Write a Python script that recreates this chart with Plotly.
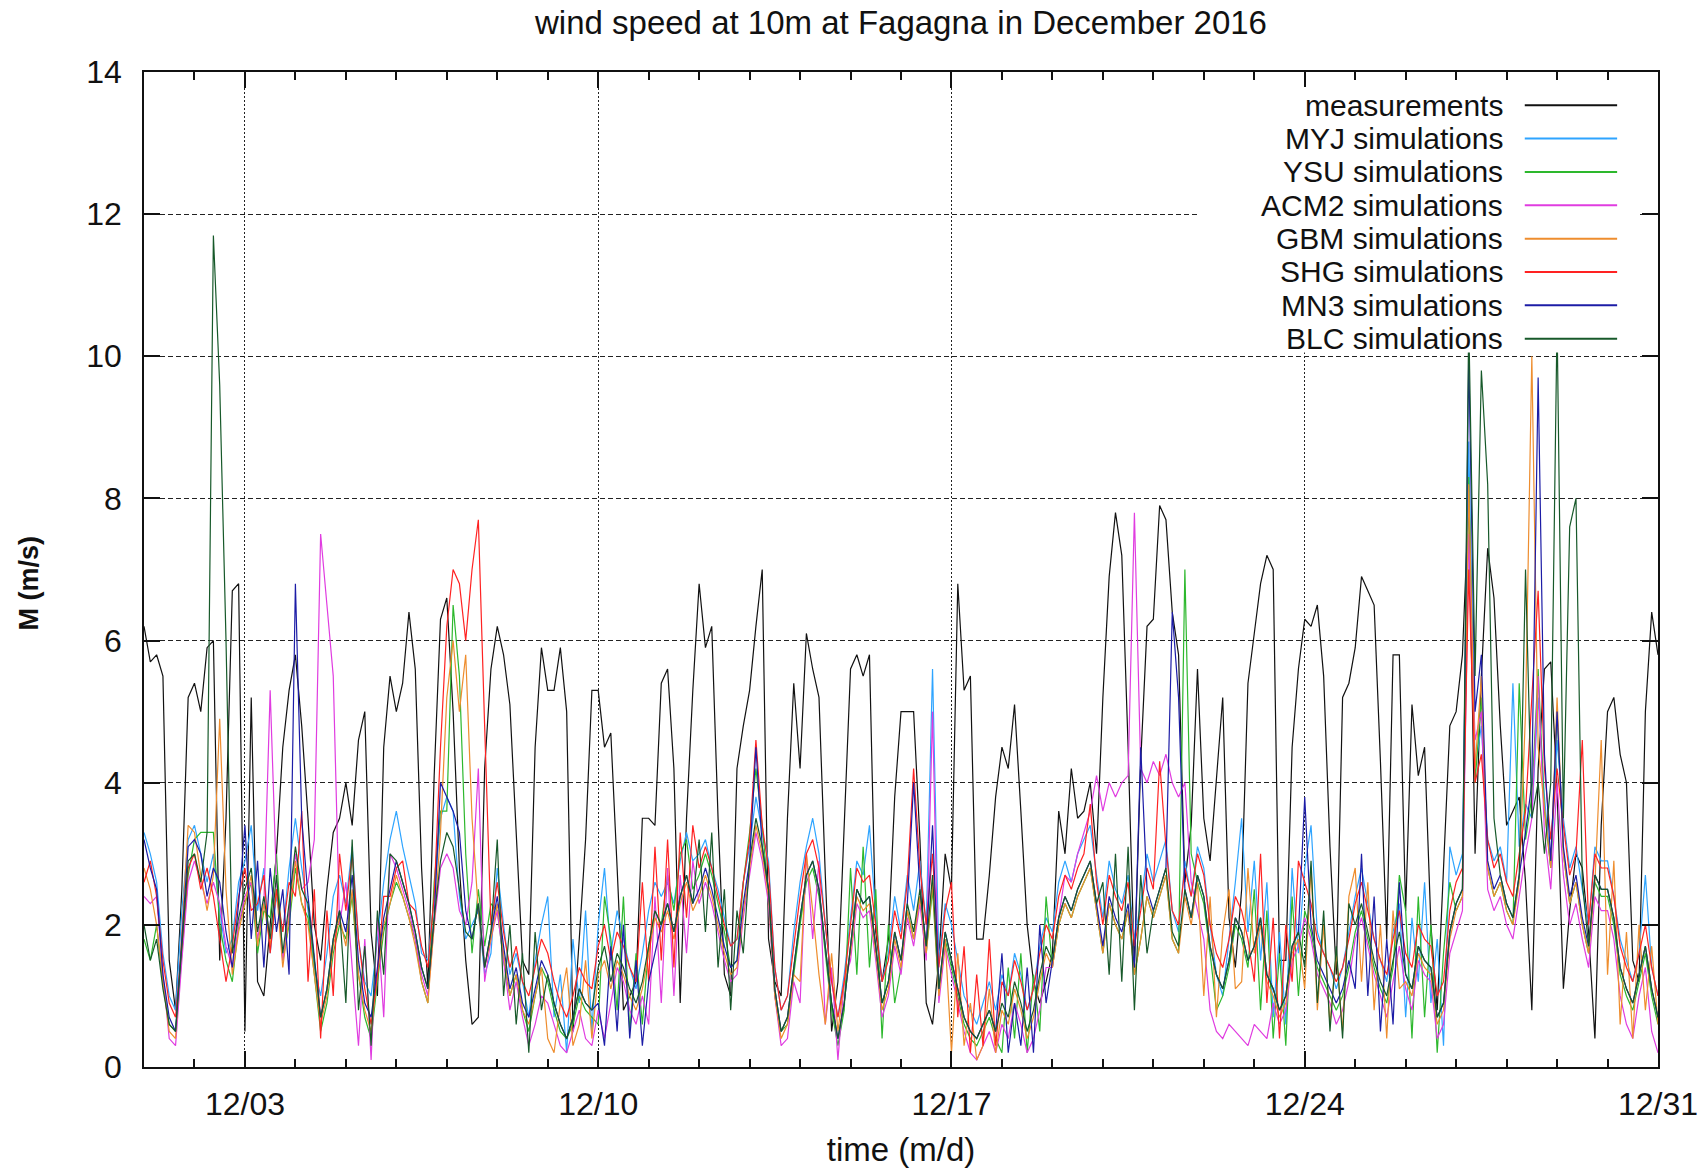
import pandas as pd
import plotly.graph_objects as go

# ---------------- data (3-hourly values, 1 Dec 00:00 -> 31 Dec 00:00) ----------------
START = "2016-12-01"
N_POINTS = 241

MEASUREMENTS = [
    6.2, 5.7, 5.8, 5.5, 1.5, 0.8, 2.5, 5.2,
    5.4, 5.0, 5.9, 6.0, 1.5, 3.5, 6.7, 6.8,
    0.5, 5.2, 1.2, 1.0, 2.0, 3.0, 4.5, 5.3,
    5.8, 4.8, 3.5, 2.0, 1.5, 2.5, 3.3, 3.5,
    4.0, 3.4, 4.6, 5.0, 1.9, 1.0, 4.5, 5.5,
    5.0, 5.4, 6.4, 5.6, 2.8, 1.1, 4.1, 6.3,
    6.6, 5.0, 2.8, 1.5, 0.6, 0.7, 4.2, 5.6,
    6.2, 5.8, 5.1, 3.2, 1.5, 1.3, 4.5, 5.9,
    5.3, 5.3, 5.9, 5.0, 0.5, 1.8, 3.2, 5.3,
    5.3, 4.5, 4.7, 2.8, 0.8, 1.0, 1.2, 3.5,
    3.5, 3.4, 5.4, 5.6, 4.2, 0.9, 3.5, 5.3,
    6.8, 5.9, 6.2, 3.5, 1.3, 1.0, 4.2, 4.8,
    5.3, 6.2, 7.0, 1.8, 1.2, 1.0, 3.5, 5.4,
    4.2, 6.1, 5.6, 5.2, 2.7, 0.5, 1.2, 3.4,
    5.6, 5.8, 5.5, 5.8, 1.9, 1.2, 1.8, 3.8,
    5.0, 5.0, 5.0, 3.2, 0.9, 0.6, 1.5, 3.0,
    2.5, 6.8, 5.3, 5.5, 1.8, 1.8, 2.7, 3.8,
    4.5, 4.2, 5.1, 3.6, 2.0, 1.2, 0.9, 1.2,
    1.6, 3.6, 3.0, 4.2, 3.5, 3.6, 4.0, 3.0,
    5.2, 6.9, 7.8, 7.2, 4.5, 1.4, 4.3, 6.2,
    6.3, 7.9, 7.7, 6.4, 5.8, 2.6, 3.4, 5.6,
    3.5, 2.9, 4.0, 5.2, 2.1, 1.4, 2.5, 5.4,
    6.1, 6.8, 7.2, 7.0, 1.5, 1.5, 4.5, 5.6,
    6.3, 6.2, 6.5, 5.5, 3.1, 1.3, 5.2, 5.4,
    5.9, 6.9, 6.7, 6.5, 4.3, 1.8, 5.8, 5.8,
    2.2, 5.1, 4.1, 4.5, 2.0, 0.8, 2.8, 4.8,
    5.0, 5.8, 8.0, 3.0, 5.5, 7.3, 6.6, 4.8,
    3.4, 3.6, 3.8, 2.6, 0.8, 4.2, 5.6, 5.7,
    3.9, 1.1, 2.2, 3.0, 2.8, 1.9, 0.4, 3.4,
    5.0, 5.2, 4.4, 4.0, 1.5, 1.2, 5.0, 6.4,
    5.8,
]

MYJ = [
    3.3, 3.0, 2.6, 1.6, 1.0, 0.8, 2.2, 3.2,
    3.4, 3.0, 2.6, 3.0, 2.2, 1.6, 1.8, 2.6,
    2.9, 3.4, 2.2, 2.8, 1.6, 2.4, 1.9, 2.8,
    3.5, 2.8, 2.2, 1.4, 1.0, 1.6, 2.4, 2.7,
    2.3, 3.1, 1.8, 1.2, 1.0, 1.8, 2.6, 3.2,
    3.6, 3.1, 2.7, 2.3, 1.6, 1.5, 2.4, 3.5,
    3.8, 3.6, 2.4, 1.8, 2.0, 2.2, 1.3, 1.6,
    2.8, 2.0, 1.3, 1.6, 1.2, 0.7, 1.5, 2.0,
    2.4, 0.7, 1.3, 0.2, 1.8, 0.9, 2.2, 0.5,
    2.0, 2.8, 1.6, 2.2, 1.8, 1.4, 1.1, 1.6,
    2.2, 2.6, 2.4, 2.6, 2.3, 2.9, 3.3, 2.9,
    3.0, 3.2, 2.8, 2.5, 2.1, 1.7, 1.8, 2.6,
    3.1, 3.8, 3.3, 2.9, 1.4, 0.8, 1.0, 1.9,
    2.6, 3.1, 3.5, 3.0, 2.0, 1.2, 0.7, 1.3,
    2.1, 2.9, 2.7, 3.4, 2.1, 1.2, 1.6, 2.4,
    1.9, 2.7, 2.2, 2.9, 2.0, 5.6, 1.5, 2.3,
    2.0, 1.5, 1.0, 0.8, 0.6, 0.9, 1.2, 0.8,
    1.3, 1.0, 1.6, 1.3, 0.8, 1.1, 1.7, 2.1,
    1.9, 2.6, 2.9, 2.6, 3.0, 3.2, 3.4, 2.7,
    2.1, 2.9, 2.5, 2.3, 2.7, 1.8, 2.3, 3.0,
    2.6, 2.9, 3.2, 2.2, 1.9, 2.9, 2.4, 3.1,
    2.8, 2.0, 1.3, 1.0, 1.8, 2.6, 3.5, 1.9,
    2.9, 1.5, 2.6, 0.7, 1.9, 0.6, 2.8, 1.6,
    2.8, 3.4, 1.9, 1.6, 1.4, 1.1, 1.4, 1.9,
    2.4, 2.8, 2.3, 1.8, 1.5, 1.2, 1.9, 2.3,
    0.7, 2.1, 1.2, 2.6, 0.9, 1.8, 0.3, 3.1,
    2.7, 3.0, 8.8, 4.2, 4.8, 3.2, 2.9, 3.1,
    2.6, 5.4, 3.1, 3.7, 3.5, 5.2, 3.8, 2.8,
    4.6, 3.5, 2.8, 3.1, 2.5, 2.0, 3.1, 2.9,
    2.9, 2.4, 1.8, 1.5, 1.2, 1.6, 2.7, 1.4,
    1.0,
]

YSU = [
    1.8, 1.5, 2.0, 1.2, 0.6, 0.5, 1.6, 2.7,
    3.2, 3.3, 3.3, 3.3, 2.0, 1.5, 1.2, 2.0,
    2.3, 2.6, 1.6, 2.2, 2.1, 3.0, 1.5, 2.0,
    2.8, 2.3, 2.1, 1.3, 0.5, 0.9, 1.6, 2.0,
    1.8, 2.4, 1.3, 0.7, 0.4, 1.2, 1.9, 2.3,
    2.6, 2.4, 2.1, 1.8, 1.2, 0.9, 2.6, 3.6,
    3.6, 6.5, 5.5, 3.0, 1.6, 2.5, 1.7, 2.3,
    2.2, 1.5, 1.0, 1.3, 0.8, 0.5, 1.0, 1.4,
    1.2, 0.8, 0.5, 0.4, 0.6, 1.0, 0.8, 0.7,
    0.6, 2.4, 1.8, 0.8, 2.4, 0.5, 1.6, 0.6,
    1.7, 2.2, 2.0, 2.7, 2.2, 3.0, 3.2, 2.5,
    2.7, 3.0, 2.7, 2.3, 1.9, 1.4, 1.5, 2.6,
    3.3, 4.2, 3.4, 2.4, 1.0, 0.5, 0.6, 1.3,
    2.0, 2.6, 2.8, 2.4, 1.6, 0.8, 0.3, 0.8,
    2.8, 1.3, 3.1, 1.4, 2.5, 0.4, 2.0, 0.9,
    1.4, 2.2, 1.8, 2.4, 1.6, 2.5, 1.0, 1.8,
    1.4, 1.0, 0.6, 0.4, 0.3, 0.5, 0.7, 0.4,
    0.2, 1.4, 0.4, 1.6, 0.2, 1.3, 0.5, 2.4,
    1.4, 2.0, 2.3, 2.1, 2.4, 2.6, 2.8, 2.2,
    1.6, 2.3, 2.0, 1.8, 2.2, 1.3, 1.8, 2.4,
    2.1, 2.4, 2.7, 1.8, 1.6, 7.0, 3.0, 2.6,
    2.3, 1.6, 0.8, 1.0, 1.4, 2.0, 1.8, 1.4,
    2.5, 0.8, 2.2, 0.4, 1.6, 0.3, 2.4, 1.0,
    2.2, 1.9, 1.4, 1.2, 1.0, 0.8, 1.0, 1.4,
    1.9, 2.2, 1.8, 1.4, 1.1, 0.9, 1.4, 2.7,
    2.2, 0.4, 2.4, 0.7, 2.0, 0.2, 1.6, 2.6,
    2.2, 2.4, 8.3, 4.0, 5.2, 2.8, 2.4, 2.6,
    2.2, 2.0, 5.4, 3.2, 3.8, 5.6, 3.6, 2.8,
    5.0, 3.0, 2.3, 2.6, 2.0, 1.6, 2.6, 2.4,
    2.4, 2.0, 1.3, 1.0, 0.8, 1.2, 1.6, 1.0,
    0.6,
]

ACM2 = [
    2.4, 2.3, 2.4, 1.3, 0.4, 0.3, 1.5, 2.6,
    2.9, 2.6, 2.3, 2.6, 2.3, 1.7, 1.4, 2.0,
    2.4, 2.6, 1.8, 2.3, 5.3, 2.6, 1.5, 2.2,
    3.0, 2.5, 2.6, 3.2, 7.5, 6.5, 5.5, 2.0,
    2.6, 1.4, 0.3, 1.8, 0.1, 2.1, 0.7, 3.0,
    2.8, 2.5, 2.2, 1.8, 1.3, 1.0, 2.0, 2.8,
    3.0, 2.8, 2.2, 2.0, 2.6, 4.2, 1.2, 1.8,
    2.2, 1.5, 0.8, 1.2, 0.7, 0.3, 0.6, 1.0,
    0.9, 0.6, 0.3, 0.2, 0.5, 0.8, 0.4, 0.3,
    0.8, 0.4, 0.9, 1.4, 1.2, 0.8, 0.6, 1.0,
    0.6, 2.4, 0.9, 2.8, 1.0, 2.7, 1.6, 2.9,
    2.3, 2.6, 2.3, 1.9, 1.5, 1.2, 1.3, 2.1,
    2.7, 3.3, 2.9, 2.3, 1.0, 0.3, 0.4, 1.2,
    0.9, 3.0, 1.8, 2.9, 0.6, 1.4, 0.1, 1.2,
    1.5, 2.3, 2.1, 2.2, 1.5, 0.7, 1.0, 1.7,
    1.3, 2.1, 1.7, 2.3, 1.5, 5.0, 0.9, 1.7,
    1.3, 0.9, 0.5, 0.2, 0.1, 0.3, 0.5, 0.2,
    0.6, 0.4, 0.9, 0.6, 0.2, 0.4, 0.8, 1.4,
    1.4, 2.1, 2.7, 2.6, 3.0, 3.3, 3.6, 4.1,
    3.6, 4.0, 3.8, 4.0, 4.1, 7.8, 4.2, 4.0,
    4.3, 4.1, 4.4, 4.0, 3.8, 4.0, 2.6, 2.2,
    1.8, 0.8, 0.5, 0.4, 0.6, 0.5, 0.4, 0.3,
    0.6, 0.5, 0.4, 0.9, 0.6, 0.8, 1.5, 1.7,
    2.1, 1.8, 1.3, 1.1, 0.9, 0.6, 0.8, 1.2,
    1.8, 2.1, 1.7, 1.3, 1.0, 0.7, 1.2, 1.7,
    1.1, 0.8, 1.5, 1.3, 1.2, 0.4, 0.6, 1.6,
    1.9, 2.2, 7.5, 4.6, 5.0, 2.5, 2.2, 2.4,
    2.0, 1.8, 2.4, 3.0, 3.5, 5.5, 3.3, 2.5,
    4.0, 2.7, 2.0, 2.3, 1.8, 1.4, 2.4, 2.2,
    2.2, 1.8, 1.0, 0.6, 0.4, 1.0, 1.4, 0.5,
    0.2,
]

GBM = [
    2.8, 2.5, 2.0, 1.2, 0.5, 0.4, 1.9, 3.4,
    3.3, 2.7, 2.2, 2.7, 4.9, 2.5, 1.3, 1.9,
    2.3, 2.7, 1.7, 2.3, 1.7, 2.5, 1.4, 2.1,
    2.9, 2.3, 2.0, 1.3, 0.6, 1.0, 1.7, 2.1,
    1.7, 2.5, 1.3, 0.8, 0.5, 1.3, 2.0, 2.3,
    2.7, 2.4, 2.1, 1.7, 1.2, 0.9, 2.0, 3.3,
    5.2, 6.0, 5.0, 5.8, 3.5, 2.2, 1.4, 1.8,
    2.3, 1.6, 1.0, 1.3, 0.8, 0.6, 1.0, 1.4,
    0.4, 0.2, 0.9, 1.4, 0.3, 0.6, 1.5, 0.4,
    1.3, 1.5, 1.1, 1.5, 1.3, 1.0, 0.8, 1.1,
    1.6, 2.1, 1.9, 2.2, 1.8, 2.3, 2.6, 2.2,
    2.4, 2.7, 2.4, 2.0, 1.6, 1.3, 1.4, 2.2,
    2.8, 3.4, 3.0, 2.4, 1.0, 0.4, 0.6, 1.3,
    1.2, 3.0, 2.2, 1.3, 0.6, 1.6, 0.5, 1.2,
    1.6, 2.4, 2.2, 2.3, 1.6, 0.8, 1.1, 1.8,
    1.4, 2.2, 1.8, 2.4, 1.6, 2.6, 1.0, 1.8,
    0.2, 1.6, 0.3, 0.9, 0.1, 0.3, 1.1, 0.2,
    0.8, 0.6, 1.1, 0.8, 0.4, 0.7, 1.2, 1.6,
    1.4, 2.0, 2.3, 2.1, 2.4, 2.6, 2.8, 2.2,
    1.6, 2.3, 2.0, 1.8, 2.2, 1.3, 1.8, 2.4,
    2.1, 2.4, 2.7, 1.8, 1.6, 2.4, 2.0, 2.6,
    1.0, 2.4, 0.7, 1.9, 2.5, 1.1, 1.2, 2.8,
    1.6, 2.0, 1.2, 1.0, 0.7, 0.9, 1.6, 1.8,
    1.1, 2.8, 0.8, 2.0, 0.6, 1.6, 0.5, 2.4,
    2.8, 1.2, 2.6, 0.8, 2.0, 0.4, 2.2, 1.1,
    1.2, 1.0, 1.6, 1.4, 1.3, 0.6, 0.8, 1.8,
    2.2, 2.4, 8.2, 4.2, 5.5, 2.8, 2.4, 2.6,
    2.2, 2.0, 2.6, 5.0, 10.0, 4.5, 3.6, 2.8,
    5.2, 3.0, 2.3, 2.6, 2.0, 1.6, 2.6, 4.6,
    1.3, 2.9, 0.6, 1.9, 0.4, 2.0, 0.8, 1.7,
    0.6,
]

SHG = [
    2.6, 2.9, 2.4, 1.5, 0.9, 0.7, 1.7, 2.8,
    3.0, 2.5, 2.8, 2.4, 1.8, 1.2, 1.7, 2.4,
    2.8, 2.2, 2.3, 2.7, 1.6, 2.5, 1.9, 2.6,
    2.4, 3.6, 1.2, 2.5, 0.4, 2.2, 1.0, 3.0,
    2.2, 3.0, 1.8, 1.1, 0.6, 1.3, 2.4, 2.4,
    2.8, 2.9, 2.3, 2.2, 1.7, 1.4, 2.4, 4.5,
    6.2, 7.0, 6.8, 6.0, 7.0, 7.7, 4.8, 2.0,
    2.6, 1.9, 1.4, 1.7, 1.2, 1.0, 1.4, 1.8,
    1.6, 1.2, 0.9, 0.7, 1.0, 1.4, 1.2, 1.1,
    1.7, 2.0, 1.5, 1.9, 1.7, 1.4, 1.2, 2.6,
    1.2, 3.1, 1.5, 3.2, 1.4, 3.3, 2.1, 3.4,
    2.8, 3.1, 2.8, 2.4, 2.0, 1.7, 1.8, 2.6,
    3.2, 4.6, 3.4, 2.8, 1.4, 0.8, 1.0, 1.7,
    2.4, 3.0, 3.2, 2.8, 2.0, 1.2, 0.7, 1.2,
    2.0, 2.8, 2.6, 2.7, 2.0, 1.2, 1.5, 2.2,
    1.8, 2.6, 4.2, 2.8, 2.0, 3.0, 1.4, 2.2,
    2.6, 0.7, 1.7, 0.2, 1.3, 0.3, 1.8, 0.3,
    1.2, 1.0, 1.5, 1.2, 0.8, 1.1, 1.6, 2.0,
    1.8, 2.4, 2.7, 2.5, 2.8, 3.0, 3.7, 2.6,
    2.0, 2.7, 2.4, 2.2, 2.6, 1.7, 2.2, 2.8,
    2.5, 4.3, 3.1, 2.2, 2.0, 2.8, 2.4, 3.0,
    2.7, 2.0, 1.6, 1.4, 1.8, 2.4, 2.2, 1.8,
    1.2, 3.0, 0.9, 2.1, 0.4, 2.0, 1.2, 2.9,
    2.6, 2.3, 1.8, 1.6, 1.4, 1.2, 1.4, 1.8,
    2.3, 2.6, 2.2, 1.8, 1.5, 1.3, 1.8, 2.2,
    1.6, 1.4, 2.0, 1.8, 1.7, 1.0, 1.2, 2.2,
    2.6, 2.8, 7.0, 4.0, 4.4, 3.2, 2.8, 3.0,
    2.6, 2.4, 3.0, 3.6, 5.2, 6.7, 4.2, 3.2,
    4.2, 3.4, 2.7, 3.0, 4.6, 2.0, 3.0, 2.8,
    2.8, 2.4, 1.7, 1.4, 1.2, 1.6, 2.0, 1.4,
    1.0,
]

MN3 = [
    3.2, 2.8, 2.5, 1.3, 0.7, 0.5, 1.8, 3.1,
    3.2, 3.0, 2.4, 2.8, 2.6, 1.9, 1.4, 2.3,
    3.4, 1.8, 2.9, 1.4, 2.8, 1.9, 2.5, 1.3,
    6.8, 3.5, 2.4, 1.5, 0.7, 1.1, 1.8, 2.2,
    1.9, 2.7, 1.5, 0.9, 0.7, 1.4, 2.1, 2.5,
    2.9, 2.6, 2.3, 1.9, 1.4, 1.1, 2.1, 4.0,
    3.8, 3.6, 3.3, 2.2, 1.8, 2.3, 1.4, 1.9,
    2.4, 1.7, 1.1, 1.4, 0.9, 0.7, 1.1, 1.5,
    1.3, 0.9, 0.6, 0.4, 0.7, 1.1, 0.9, 0.8,
    0.9, 0.3, 1.7, 0.5, 2.0, 0.4, 1.5, 0.3,
    1.2, 1.6, 2.0, 2.3, 1.9, 2.4, 2.7, 2.3,
    2.5, 2.8, 2.5, 2.1, 1.7, 1.4, 1.5, 2.3,
    2.9, 4.5, 3.1, 2.5, 1.1, 0.5, 0.7, 1.4,
    2.1, 2.7, 2.9, 2.5, 1.7, 0.9, 0.4, 0.9,
    1.7, 2.5, 2.3, 2.4, 1.7, 0.9, 1.2, 1.9,
    1.5, 2.3, 4.0, 2.5, 1.7, 3.4, 1.1, 1.9,
    1.5, 1.1, 0.7, 0.5, 0.4, 0.6, 0.8, 0.5,
    1.6, 0.2, 0.9, 0.3, 1.4, 0.2, 2.0, 0.9,
    1.5, 2.1, 2.4, 2.2, 2.5, 2.7, 2.9, 2.3,
    1.7, 2.4, 2.1, 1.9, 2.3, 1.4, 4.5, 2.5,
    2.2, 2.5, 2.8, 6.4, 5.2, 2.5, 2.1, 2.7,
    2.4, 1.7, 1.3, 1.1, 1.5, 2.1, 1.9, 1.5,
    1.7, 2.1, 1.3, 1.1, 0.8, 1.0, 1.7, 1.9,
    3.8, 2.0, 1.5, 1.3, 1.1, 0.9, 1.1, 1.5,
    1.1, 3.0, 1.0, 2.4, 0.5, 1.8, 0.6, 2.6,
    1.3, 1.1, 1.7, 1.5, 1.4, 0.7, 0.9, 1.9,
    2.3, 2.5, 10.0, 5.0, 5.8, 2.9, 2.5, 2.7,
    2.3, 2.1, 2.7, 3.3, 4.0, 9.7, 4.4, 2.9,
    5.0, 3.1, 2.4, 2.7, 2.1, 1.7, 2.7, 2.5,
    2.5, 2.1, 1.4, 1.1, 0.9, 1.3, 1.7, 1.1,
    0.7,
]

BLC = [
    2.0, 1.5, 1.8, 1.1, 0.6, 0.5, 1.7, 2.9,
    3.0, 2.6, 3.3, 11.7, 9.6, 6.0, 1.6, 2.1,
    2.5, 2.8, 1.9, 2.4, 1.8, 2.7, 1.6, 2.3,
    3.1, 2.5, 2.3, 1.5, 0.7, 1.1, 1.8, 2.2,
    0.9, 3.2, 0.8, 1.7, 0.3, 2.2, 1.3, 3.0,
    2.9, 2.6, 2.3, 1.9, 1.4, 1.1, 2.1, 2.9,
    3.3, 3.1, 2.5, 1.9, 1.8, 2.3, 1.4, 1.9,
    3.2, 1.0, 2.0, 0.6, 1.6, 0.2, 1.9, 0.8,
    1.3, 0.9, 0.6, 0.4, 0.7, 1.1, 0.9, 0.8,
    1.4, 1.7, 1.2, 1.6, 1.4, 1.1, 0.9, 1.2,
    1.7, 2.2, 2.0, 2.3, 1.9, 2.4, 2.7, 2.3,
    3.2, 1.9, 3.3, 1.4, 2.5, 0.8, 2.2, 1.6,
    2.9, 3.5, 3.1, 2.5, 1.1, 0.5, 0.7, 1.4,
    2.1, 2.7, 2.9, 2.5, 1.7, 0.9, 0.4, 0.9,
    1.7, 2.5, 2.3, 2.4, 1.7, 0.9, 1.2, 1.9,
    1.5, 2.3, 1.9, 2.5, 1.7, 2.7, 1.1, 1.9,
    1.5, 1.1, 0.7, 0.5, 0.4, 0.6, 0.8, 0.5,
    0.9, 0.7, 1.2, 0.9, 0.5, 0.8, 1.3, 1.7,
    1.5, 2.1, 2.4, 2.2, 2.5, 2.7, 2.9, 2.3,
    2.6, 1.3, 3.0, 1.2, 3.1, 0.8, 2.7, 1.6,
    2.2, 2.5, 2.8, 1.9, 1.7, 2.5, 2.1, 2.7,
    2.4, 1.7, 1.3, 1.1, 1.5, 2.1, 1.9, 1.5,
    1.7, 2.1, 1.3, 1.1, 0.8, 1.0, 1.7, 1.9,
    1.4, 2.9, 0.9, 2.2, 0.5, 1.7, 0.4, 2.3,
    2.0, 2.3, 1.9, 1.5, 1.2, 1.0, 1.5, 1.9,
    1.3, 1.1, 1.7, 1.5, 1.4, 0.7, 0.9, 1.9,
    2.3, 2.5, 10.5, 5.5, 9.8, 8.2, 3.5, 2.7,
    2.3, 2.1, 2.7, 7.0, 3.5, 4.0, 3.0, 4.0,
    10.5, 3.5, 7.6, 8.0, 2.6, 1.7, 2.7, 2.5,
    2.5, 2.1, 1.4, 1.1, 0.9, 1.3, 1.7, 1.1,
    0.7,
]

SERIES_NAMES = ["measurements", "MYJ simulations", "YSU simulations", "ACM2 simulations",
                "GBM simulations", "SHG simulations", "MN3 simulations", "BLC simulations"]
SERIES_VALUES = [MEASUREMENTS, MYJ, YSU, ACM2, GBM, SHG, MN3, BLC]
SERIES_COLORS = ["#111111", "#2ea4ff", "#2db82d", "#e03ce0", "#ee8d2e", "#ff2222", "#1c1ca6", "#17592a"]

TICK_DATES = ["2016-12-03", "2016-12-10", "2016-12-17", "2016-12-24", "2016-12-31"]
TICK_LABELS = ["12/03", "12/10", "12/17", "12/24", "12/31"]

TITLE = "wind speed at 10m at Fagagna in December 2016"
X_TITLE = "time (m/d)"
Y_TITLE = "M (m/s)"

# ---------------- figure ----------------
times = pd.date_range(START, periods=N_POINTS, freq="3h")
FONT = "Liberation Sans, Arial, Helvetica, sans-serif"

fig = go.Figure()
for name, vals, col in zip(SERIES_NAMES, SERIES_VALUES, SERIES_COLORS):
    assert len(vals) == N_POINTS, (name, len(vals))
    fig.add_trace(go.Scatter(x=times, y=vals, mode="lines", name=name,
                             line=dict(color=col, width=1.2), showlegend=False))

W, H = 1702, 1168
L, R, T, B = 144, 44, 72, 101

fig.update_layout(
    width=W, height=H,
    margin=dict(l=L, r=R, t=T, b=B, autoexpand=False),
    paper_bgcolor="white", plot_bgcolor="white",
    font=dict(family=FONT, size=32, color="#111"),
    title=dict(text=TITLE, x=0.5, xref="paper", xanchor="center",
               y=1 - 22 / H, yref="container", yanchor="middle",
               font=dict(size=33, color="#111")),
    showlegend=False,
)

fig.update_xaxes(
    type="date", range=["2016-12-01", "2016-12-31"],
    tickmode="array", tickvals=TICK_DATES, ticktext=TICK_LABELS,
    showgrid=True, gridcolor="#222", gridwidth=1, griddash="2px,2px",
    ticks="inside", ticklen=16, tickwidth=1.5, tickcolor="#111",
    showline=True, linecolor="#111", linewidth=1.5, mirror="allticks",
    zeroline=False, ticklabelstandoff=8,
    minor=dict(dtick=86400000, tick0="2016-12-01", ticks="inside", ticklen=8,
               tickwidth=1.5, tickcolor="#111", showgrid=False),
    title=dict(text=X_TITLE, font=dict(size=33), standoff=20),
    automargin=False,
)
fig.update_yaxes(
    range=[0, 14], tick0=0, dtick=2,
    showgrid=True, gridcolor="#222", gridwidth=1, griddash="5px,3px",
    ticks="inside", ticklen=16, tickwidth=1.5, tickcolor="#111",
    showline=True, linecolor="#111", linewidth=1.5, mirror="allticks",
    zeroline=False, ticklabelstandoff=14,
    automargin=False,
)

# y-axis title placed like the reference (slightly below the plot's mid-height)
fig.add_annotation(x=29, xref="paper", y=0.487, yref="paper", text="<b>" + Y_TITLE + "</b>",
                   textangle=-90, showarrow=False, xanchor="center", yanchor="middle",
                   font=dict(size=27, color="#111"))
fig.layout.annotations[-1].update(x=(29 - L) / (W - L - R))

# ---------------- key (text first, sample line after, on an opaque box) ----------------
row0 = 0.9666
step = 0.03352
fig.add_shape(type="rect", xref="paper", yref="paper", x0=0.697, x1=0.9875,
              y0=0.718, y1=0.985, fillcolor="white", line=dict(width=0), layer="above")
for i, (name, col) in enumerate(zip(SERIES_NAMES, SERIES_COLORS)):
    yy = row0 - i * step
    fig.add_annotation(x=0.898, y=yy, xref="paper", yref="paper", text=name,
                       showarrow=False, xanchor="right", yanchor="middle",
                       borderpad=0, font=dict(size=30, color="#111"))
    fig.add_shape(type="line", xref="paper", yref="paper", x0=0.912, x1=0.973,
                  y0=yy, y1=yy, line=dict(color=col, width=2), layer="above")

fig.write_html("out.html")
